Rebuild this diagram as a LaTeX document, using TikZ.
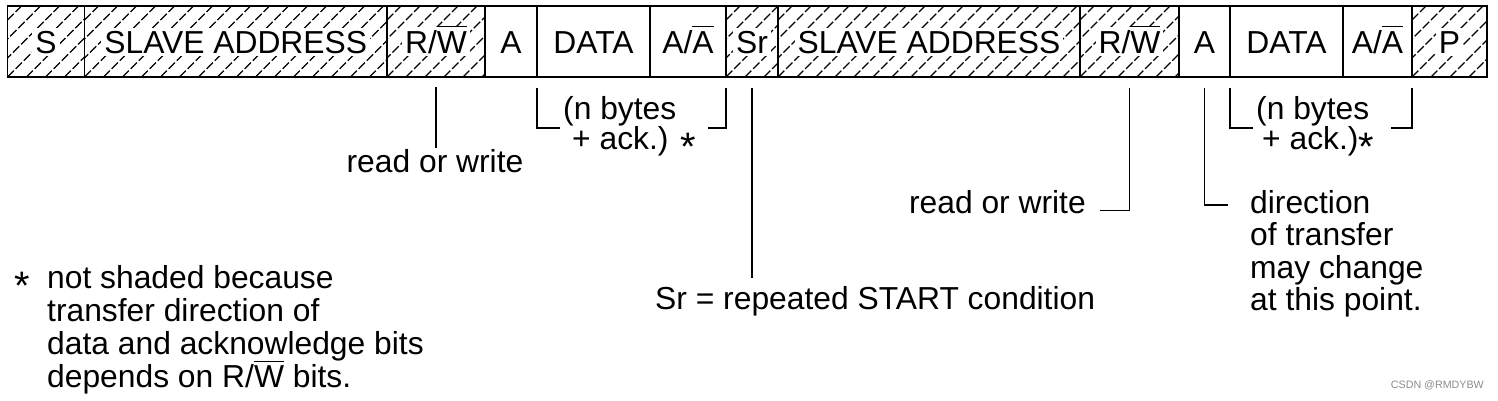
\documentclass[tikz,border=0pt]{standalone}
\usepackage{fontspec}
\setmainfont{Liberation Sans}
\usepackage{graphicx}
\usepackage{tikz}
\usetikzlibrary{positioning}
\usetikzlibrary{calc}
\newcommand{\ovl}[1]{\smash{$\overline{\mbox{#1\rule{0pt}{25pt}}}$}}
\newcommand{\lowstar}{\raisebox{-11pt}{\scalebox{1.25}{*}}}
\newcommand{\whitebg}[1]{{\setlength{\fboxsep}{3pt}\colorbox{white}{#1}}}
\tikzstyle{lead}=[line width=1.5pt]
\tikzset{
  hatch/.style={
    path picture={
      \foreach \k in {-4,...,16}
        \draw[line width=1.2pt, dash pattern=on 9pt off 2.5pt]
          ([xshift=\k*19pt]path picture bounding box.south west) -- ++(90,-90);
    }
  },
}

\begin{document}
\begin{tikzpicture}[x=1pt, y=-1pt,
font=\fontsize{31.8}{33}\selectfont,
every node/.append style={inner sep=0pt},
cell/.style={rectangle,draw,line width=1.5pt,
minimum height=71pt,outer sep=0pt,
text height=23pt,text depth=0pt,anchor=west},
hcell/.style={cell,hatch},
]
\useasboundingbox (0,0) rectangle (1498,400);
\node[hcell, minimum width=77pt] (s) at (7.5,41.5) {\whitebg{S}};
\node[hcell, minimum width=302.5pt, right=0pt of s] (sa1) {\whitebg{SLAVE ADDRESS}};
\node[hcell, minimum width=98pt, right=0pt of sa1] (rw1) {\whitebg{R/\ovl{W}}};
\node[cell, minimum width=52pt, right=0pt of rw1] (a1) {A};
\node[cell, minimum width=113pt, right=0pt of a1] (d1) {DATA};
\node[cell, minimum width=76pt, right=0pt of d1] (ack1) {A/\ovl{A}};
\node[hcell, minimum width=52pt, right=0pt of ack1] (sr) {\whitebg{Sr}};
\node[hcell, minimum width=302pt, right=0pt of sr] (sa2) {\whitebg{SLAVE ADDRESS}};
\node[hcell, minimum width=99pt, right=0pt of sa2] (rw2) {\whitebg{R/\ovl{W}}};
\node[cell, minimum width=51pt, right=0pt of rw2] (a2) {A};
\node[cell, minimum width=113pt, right=0pt of a2] (d2) {DATA};
\node[cell, minimum width=69pt, right=0pt of d2] (ack2) {A/\ovl{A}};
\node[hcell, minimum width=75pt, right=0pt of ack2] (p) {\whitebg{P}};

\node[anchor=base] (rdwr1) at (435,172) {read or write};
\node[anchor=north west, align=left, font=\fontsize{31.8}{28.5}\selectfont] (bytes1) at (563,96) {(n bytes\\\hspace*{9pt}+ ack.) \lowstar};
\node[anchor=base west] (srnote) at (655,309) {Sr = repeated START condition};
\node[anchor=base east] (rdwr2) at (1086,213) {read or write};
\node[anchor=north west, align=left, font=\fontsize{31.8}{28.5}\selectfont] (bytes2) at (1256,96) {(n bytes\\\hspace*{6pt}+ ack.)\lowstar};
\node[anchor=north west, align=left, font=\fontsize{31.8}{32.5}\selectfont] (dirnote) at (1250,190) {direction\\of transfer\\may change\\at this point.};
\node[anchor=north west, align=left] (fnote) at (47,265) {not shaded because\\transfer direction of\\data and acknowledge bits\\depends on R/\ovl{W} bits.};
\node[anchor=base] (fstar) at (22,288) {\lowstar};
\node[anchor=east, font=\fontsize{10.7}{12}\selectfont, text=black!45] (mark) at (1484,385) {CSDN @RMDYBW};

\draw[lead, shorten >=1pt] ([yshift=-10pt]rw1.south) -- (rw1.south |- rdwr1.north);
\draw[lead] ([yshift=-11pt]d1.south west) |- ([xshift=-3pt,yshift=-32pt]bytes1.north west);
\draw[lead] ([yshift=-11pt]ack1.south east) |- ([xshift=12pt,yshift=-32pt]bytes1.north east);
\draw[lead, shorten >=8pt] ([yshift=-11pt]sr.south) -- (sr.south |- srnote.north);
\draw[lead] ([yshift=-11pt]rw2.south) |- ([xshift=14pt]rdwr2.mid east);
\draw[lead] ([yshift=-11pt]a2.south) |- ([xshift=-22pt,yshift=-15pt]dirnote.north west);
\draw[lead] ([yshift=-11pt]d2.south west) |- ([xshift=-3pt,yshift=-32pt]bytes2.north west);
\draw[lead] ([yshift=-11pt]ack2.south east) |- ([xshift=17pt,yshift=-32pt]bytes2.north east);
\end{tikzpicture}
\end{document}
